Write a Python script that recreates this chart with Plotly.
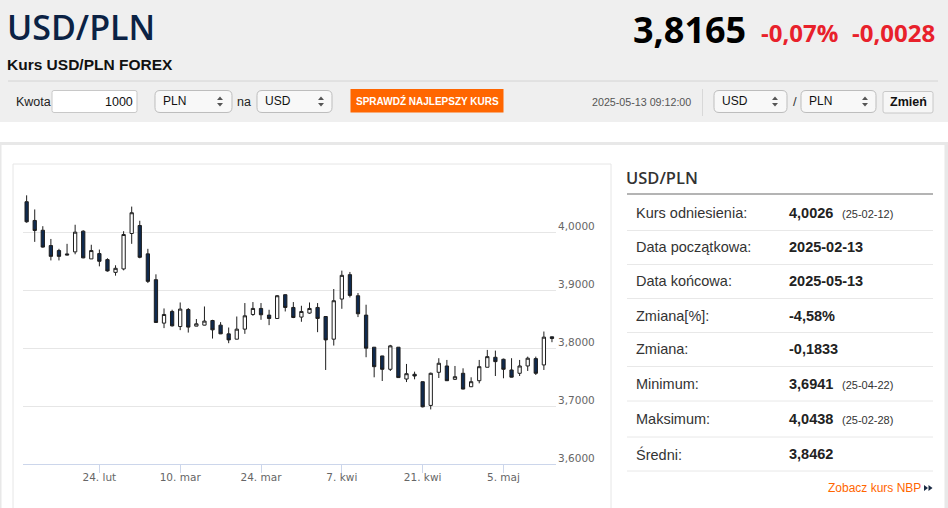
import plotly.graph_objects as go

# ---------------- data ----------------
dates = ["2025-02-11","2025-02-12","2025-02-13","2025-02-14","2025-02-17","2025-02-18","2025-02-19","2025-02-20","2025-02-21",
         "2025-02-24","2025-02-25","2025-02-26","2025-02-27","2025-02-28",
         "2025-03-03","2025-03-04","2025-03-05","2025-03-06","2025-03-07",
         "2025-03-10","2025-03-11","2025-03-12","2025-03-13","2025-03-14",
         "2025-03-17","2025-03-18","2025-03-19","2025-03-20","2025-03-21",
         "2025-03-24","2025-03-25","2025-03-26","2025-03-27","2025-03-28",
         "2025-03-31","2025-04-01","2025-04-02","2025-04-03","2025-04-04",
         "2025-04-07","2025-04-08","2025-04-09","2025-04-10","2025-04-11",
         "2025-04-14","2025-04-15","2025-04-16","2025-04-17","2025-04-18",
         "2025-04-21","2025-04-22","2025-04-23","2025-04-24","2025-04-25",
         "2025-04-28","2025-04-29","2025-04-30","2025-05-01","2025-05-02",
         "2025-05-05","2025-05-06","2025-05-07","2025-05-08","2025-05-09",
         "2025-05-12","2025-05-13"]
open_ = [4.0522,4.0199,4.0030,3.9766,3.9680,3.9622,3.9657,4.0014,3.9536,
         3.9628,3.9524,3.9304,3.9363,3.9974,
         4.0112,3.9623,3.9178,3.8429,3.8630,
         3.8370,3.8664,3.8377,3.8394,3.8474,
         3.8394,3.8244,3.8152,3.8325,3.8578,
         3.8682,3.8567,3.8509,3.8919,3.8699,
         3.8533,3.8602,3.8699,3.8543,3.8152,
         3.8844,3.9265,3.8901,3.8567,3.8014,
         3.7863,3.7633,3.8014,3.7465,3.7547,
         3.7419,3.7010,3.7581,3.7690,3.7460,
         3.7564,3.7332,3.7436,3.7668,3.7840,
         3.7806,3.7621,3.7564,3.7690,3.7817,
         3.7708,3.8193]
high = [4.0632,4.0389,4.0100,3.9880,3.9710,3.9796,4.0125,4.0030,3.9780,
        3.9697,3.9547,3.9426,4.0014,4.0438,
        4.0194,3.9710,3.9270,3.8682,3.8660,
        3.8785,3.8689,3.8500,3.8716,3.8486,
        3.8446,3.8353,3.8543,3.8775,3.8792,
        3.8775,3.8659,3.8913,3.8924,3.8792,
        3.8728,3.8785,3.8775,3.8545,3.9017,
        3.9334,3.9311,3.8948,3.8746,3.8016,
        3.7865,3.8054,3.8016,3.7725,3.7592,
        3.7421,3.7576,3.7824,3.7794,3.7690,
        3.7650,3.7495,3.7794,3.7967,3.7955,
        3.7817,3.7824,3.7794,3.7851,3.7851,
        3.8284,3.8195]
low = [4.0160,3.9830,3.9730,3.9510,3.9510,3.9600,3.9616,3.9547,3.9536,
       3.9408,3.9317,3.9247,3.9339,3.9796,
       3.9547,3.9120,3.8435,3.8343,3.8370,
       3.8308,3.8266,3.8375,3.8390,3.8163,
       3.8240,3.8083,3.8150,3.8244,3.8555,
       3.8486,3.8394,3.8505,3.8630,3.8515,
       3.8452,3.8590,3.8273,3.7621,3.8042,
       3.8676,3.8872,3.8533,3.7841,3.7495,
       3.7431,3.7604,3.7488,3.7413,3.7460,
       3.6976,3.6941,3.7483,3.7434,3.7448,
       3.7287,3.7327,3.7391,3.7666,3.7517,
       3.7478,3.7493,3.7517,3.7604,3.7535,
       3.7621,3.8100]
close = [4.0176,4.0026,3.9740,3.9580,3.9580,3.9605,3.9997,3.9554,3.9680,
         3.9495,3.9329,3.9374,3.9957,4.0332,
         3.9564,3.9149,3.8440,3.8578,3.8382,
         3.8671,3.8360,3.8417,3.8464,3.8313,
         3.8244,3.8140,3.8325,3.8555,3.8682,
         3.8573,3.8509,3.8901,3.8699,3.8526,
         3.8630,3.8682,3.8509,3.8140,3.8815,
         3.9253,3.8907,3.8590,3.7997,3.7678,
         3.7633,3.8037,3.7490,3.7557,3.7517,
         3.6986,3.7564,3.7737,3.7436,3.7505,
         3.7292,3.7419,3.7678,3.7851,3.7765,
         3.7633,3.7497,3.7690,3.7824,3.7564,
         3.8187,3.8165]

x_tick_dates = ["2025-02-24","2025-03-10","2025-03-24","2025-04-07","2025-04-21","2025-05-05"]
x_tick_labels = ["24. lut","10. mar","24. mar","7. kwi","21. kwi","5. maj"]
y_tick_vals = [3.6, 3.7, 3.8, 3.9, 4.0, 4.1]
y_tick_labels = ["3,6000","3,7000","3,8000","3,9000","4,0000",""]

table_labels = ["Kurs odniesienia:","Data początkowa:","Data końcowa:","Zmiana[%]:","Zmiana:","Minimum:","Maksimum:","Średni:"]
table_values = ["4,0026","2025-02-13","2025-05-13","-4,58%","-0,1833","3,6941","4,0438","3,8462"]
table_notes = ["(25-02-12)","","","","","(25-04-22)","(25-02-28)",""]

# ---------------- geometry helpers (pixels -> paper) ----------------
W, H = 948, 508
L, R, T, B = 23, 392, 174, 44
PW, PH = W - L - R, H - T - B

def px(x):
    return (x - L) / PW

def py(y):
    return (H - B - y) / PH

shapes = []
annotations = []

def rect(x0, y0, x1, y1, fill=None, line=None, lw=1, layer="below"):
    shapes.append(dict(type="rect", xref="paper", yref="paper",
                       x0=px(x0), x1=px(x1), y0=py(y1), y1=py(y0),
                       fillcolor=fill if fill else "rgba(0,0,0,0)",
                       line=dict(color=line if line else "rgba(0,0,0,0)", width=lw if line else 0),
                       layer=layer))

def hline(x0, x1, y, color, lw=1, layer="below"):
    shapes.append(dict(type="line", xref="paper", yref="paper",
                       x0=px(x0), x1=px(x1), y0=py(y), y1=py(y),
                       line=dict(color=color, width=lw), layer=layer))

def vline(x, y0, y1, color, lw=1, layer="below"):
    shapes.append(dict(type="line", xref="paper", yref="paper",
                       x0=px(x), x1=px(x), y0=py(y0), y1=py(y1),
                       line=dict(color=color, width=lw), layer=layer))

def path(points, fill, layer="above"):
    d = "M " + " L ".join(f"{px(a):.5f},{py(b):.5f}" for a, b in points) + " Z"
    shapes.append(dict(type="path", xref="paper", yref="paper", path=d,
                       fillcolor=fill, line=dict(color=fill, width=0), layer=layer))

def rrect(x0, y0, x1, y1, r, fill, line, layer="below"):
    P = lambda a, b: f"{px(a):.5f},{py(b):.5f}"
    d = (f"M {P(x0+r,y0)} L {P(x1-r,y0)} Q {P(x1,y0)} {P(x1,y0+r)} L {P(x1,y1-r)} "
         f"Q {P(x1,y1)} {P(x1-r,y1)} L {P(x0+r,y1)} Q {P(x0,y1)} {P(x0,y1-r)} "
         f"L {P(x0,y0+r)} Q {P(x0,y0)} {P(x0+r,y0)} Z")
    shapes.append(dict(type="path", xref="paper", yref="paper", path=d,
                       fillcolor=fill, line=dict(color=line, width=1), layer=layer))

def txt(x, y, s, size, color="#222", family="Liberation Sans", weight="normal", xanchor="left"):
    annotations.append(dict(x=px(x), y=py(y), xref="paper", yref="paper", text=s,
                            showarrow=False, xanchor=xanchor, yanchor="middle",
                            font=dict(size=size, color=color, family=family, weight=weight),
                            borderpad=0))

def arrows(cx, cy, color="#555"):
    path([(cx-3, cy-1.5), (cx+3, cy-1.5), (cx, cy-5)], color)
    path([(cx-3, cy+1.5), (cx+3, cy+1.5), (cx, cy+5)], color)

# ---------------- page background ----------------
rect(0, 0, W, 122, fill="#efefef")
rect(0, 142, W, 145, fill="#e8e8e8")
rect(0, 145, 1.5, H, fill="#e8e8e8")
rect(944.5, 145, W, H, fill="#e8e8e8")
# chart box
rect(13, 164, 611, H + 5, fill="white", line="#e6e6e6")

# ---------------- header ----------------
txt(6, 27, "USD/PLN", 34, "#0b2244", "Open Sans", 600)
txt(6, 64.5, "Kurs USD/PLN FOREX", 15.5, "#111", "Liberation Sans", "bold")
txt(632, 29, "3,8165", 36, "#000", "Open Sans", "bold")
txt(760, 32.5, "-0,07%", 24, "#e8212b", "Open Sans", "bold")
txt(851, 32.5, "-0,0028", 24, "#e8212b", "Open Sans", "bold")
hline(8, 938, 81, "#d4d4d4", 1)

# form row
txt(15, 101.5, "Kwota", 12.5, "#222")
rrect(52, 90.5, 137, 112.5, 2, "white", "#c8c8c8")
txt(134, 101.5, "1000", 12.5, "#111", xanchor="right")
rrect(155, 90.5, 232, 112.5, 5, "#f8f8f8", "#bdbdbd")
txt(162, 101, "PLN", 12, "#111")
arrows(220, 101.5)
txt(236, 101.5, "na", 12.5, "#222")
rrect(257, 90.5, 332, 112.5, 5, "#f8f8f8", "#bdbdbd")
txt(264, 101, "USD", 12, "#111")
arrows(321, 101.5)
rect(350.5, 89, 503.5, 112.5, fill="#ff6600")
txt(427, 100.5, "SPRAWDŹ NAJLEPSZY KURS", 10, "white", "Liberation Sans", "bold", xanchor="center")
txt(591, 101.5, "2025-05-13 09:12:00", 10.7, "#555")
vline(702.5, 89, 116, "#d8d8d8")
rrect(714, 90.5, 787, 112.5, 5, "#f8f8f8", "#bdbdbd")
txt(721, 101, "USD", 12, "#111")
arrows(775, 101.5)
txt(792, 101.5, "/", 13, "#333")
rrect(801, 90.5, 876, 112.5, 5, "#f8f8f8", "#bdbdbd")
txt(808, 101, "PLN", 12, "#111")
arrows(865, 101.5)
rrect(883, 91.5, 933, 113, 2, "#f6f6f6", "#c8c8c8")
txt(908, 102, "Zmień", 12.5, "#111", "Liberation Sans", "bold", xanchor="center")

# ---------------- right table ----------------
txt(625, 177.5, "USD/PLN", 16.5, "#333", "Open Sans", 600)
hline(627, 933, 194, "#b4b4b4", 2)
row_y = [213, 247, 281, 315.5, 348.5, 384, 419, 454]
sep_y = [230.5, 264.5, 298.5, 332.5, 366.5, 401, 437, 471]
for i, lab in enumerate(table_labels):
    txt(635, row_y[i], lab, 14.5, "#333")
    txt(788, row_y[i], table_values[i], 14.5, "#222", "Liberation Sans", "bold")
    if table_notes[i]:
        txt(841, row_y[i] + 1, table_notes[i], 11, "#333")
    hline(627, 933, sep_y[i], "#e8e8e8", 1)
txt(827, 488, "Zobacz kurs NBP", 12, "#ff6600")
path([(924, 485), (928, 488), (924, 491)], "#1a2a44")
path([(928.5, 485), (932.5, 488), (928.5, 491)], "#1a2a44")

# ---------------- chart ----------------
fig = go.Figure()
fig.add_trace(go.Candlestick(
    x=dates, open=open_, high=high, low=low, close=close,
    increasing=dict(fillcolor="white", line=dict(color="#1e1e1e", width=1)),
    decreasing=dict(fillcolor="#0f2a4f", line=dict(color="#1e1e1e", width=1)),
    whiskerwidth=0, hoverinfo="skip", showlegend=False,
))

axis_font = dict(family="DejaVu Sans", size=10.5, color="#666666")
fig.update_layout(
    width=W, height=H,
    margin=dict(l=L, r=R, t=T, b=B, pad=0),
    paper_bgcolor="white", plot_bgcolor="rgba(0,0,0,0)",
    boxgap=0.42,
    shapes=shapes, annotations=annotations,
    showlegend=False,
    xaxis=dict(type="category", range=[-0.45, len(dates) - 0.5],
               tickmode="array", tickvals=x_tick_dates, ticktext=x_tick_labels,
               ticks="outside", ticklen=8, tickwidth=1, tickcolor="#ccd6eb",
               showline=True, linecolor="#ccd6eb", linewidth=1,
               showgrid=False, zeroline=False, tickfont=axis_font,
               ticklabelstandoff=-5,
               rangeslider=dict(visible=False), fixedrange=True),
    yaxis=dict(side="right", range=[3.6, 4.1],
               tickmode="array", tickvals=y_tick_vals, ticktext=y_tick_labels,
               showgrid=True, gridcolor="#e6e6e6", gridwidth=1,
               zeroline=False, showline=False, ticks="",
               ticklabelshift=-6, ticklabelstandoff=1,
               tickfont=axis_font, fixedrange=True),
)

fig.write_html("out.html", config={"displayModeBar": False},
               post_script="document.body.style.margin='0px';document.body.style.overflow='hidden';")
